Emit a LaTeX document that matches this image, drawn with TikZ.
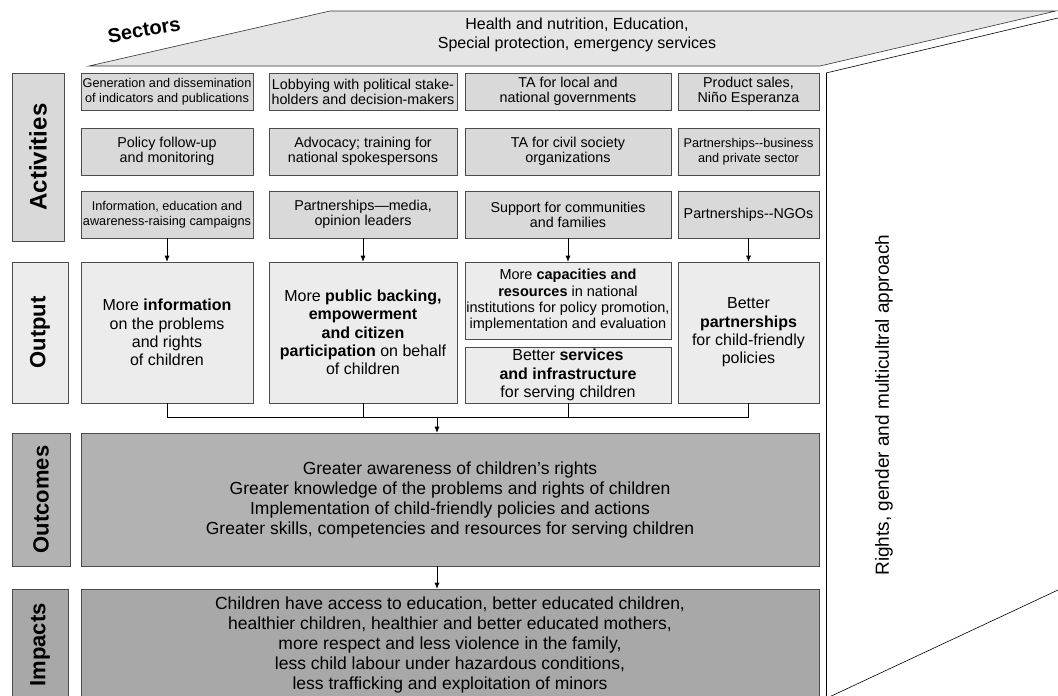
\documentclass[tikz,border=0pt]{standalone}
\usepackage{fontspec}
\setmainfont{Liberation Sans}
\usepackage{tikz}
\usetikzlibrary{arrows.meta, positioning}
\tikzset{
  >={Latex[length=6,width=5]},
  % caselle del quadro
  cell/.style={draw=black!70,line width=0.6pt,inner sep=0.5pt,align=center,font=\fontsize{14.3}{15}\selectfont},
  cell act/.style={cell,fill=gray!30},
  cell out/.style={cell,fill=gray!15,font=\fontsize{16}{18.3}\selectfont},
  cell res/.style={cell,fill=gray!60,font=\fontsize{17.5}{20}\selectfont},
  cell imp/.style={cell res,fill=gray!68},
  smalltext/.style={font=\fontsize{12.7}{15}\selectfont},
  wh/.style 2 args={minimum width=#1pt,minimum height=#2pt},
  % etichette dei livelli
  stage/.style={draw=black!70,line width=0.6pt,inner sep=0pt,font=\fontsize{22}{22}\selectfont\bfseries},
  % connessioni
  connect/.style={line width=0.6pt,black},
  connect arrow/.style={->,line width=0.6pt,black}
}
\begin{document}
\begin{tikzpicture}[x=1pt,y=-1pt]
  \clip (0,0) rectangle (1058,696);
  % tetto dei settori e pannello laterale
  \filldraw[fill=gray!20,draw=black!80,line width=0.6pt] (89,66) -- (330,11) -- (1056,11) -- (820,66) -- cycle;
  \node[rotate=10,font=\fontsize{20}{20}\selectfont\bfseries] (sectors) at (144,30) {Sectors};
  \node[align=center,font=\fontsize{16}{19}\selectfont] (sectorlist) at (577,35)
    {Health and nutrition, Education,\\Special protection, emergency services};
  \draw[line width=0.6pt] (826,73) -- (1058,18);
  \draw[line width=0.6pt] (826,73) -- (826,700);
  \draw[line width=0.6pt] (826,698.5) -- (1058,590);
  \node[rotate=90,font=\fontsize{19}{19}\selectfont] (approach) at (884,405)
    {Rights, gender and multicultral approach};

  % livelli
  \node[stage,fill=gray!30,wh={52}{168}] (lblact) at (38,157) {\rotatebox{90}{\fontsize{24}{24}\selectfont Activities}};
  \node[stage,fill=gray!15,wh={56}{141}] (lblout) at (40,332.5) {\rotatebox{90}{Output}};
  \node[stage,fill=gray!60,wh={58}{133}] (lblres) at (41,499.5) {\rotatebox{90}{Outcomes}};
  \node[stage,fill=gray!68,wh={56}{112}] (lblimp) at (40,645) {\rotatebox{90}{Impacts}};

  % attivita
  \node[cell act,smalltext,wh={172}{37}] (act11) at (167,91.5) {Generation and dissemination\\of indicators and publications};
  \node[cell act,wh={188}{37}] (act21) at (363,91.5) {Lobbying with political stake-\\holders and decision-makers};
  \node[cell act,wh={206}{37}] (act31) at (568,91.5) {TA for local and\\national governments};
  \node[cell act,wh={141}{37}] (act41) at (748.5,91.5) {Product sales,\\Niño Esperanza};
  \node[cell act,wh={172}{47}] (act12) at (167,151.5) {Policy follow-up\\and monitoring};
  \node[cell act,wh={188}{47}] (act22) at (363,151.5) {Advocacy; training for\\national spokespersons};
  \node[cell act,wh={206}{47}] (act32) at (568,151.5) {TA for civil society\\organizations};
  \node[cell act,smalltext,wh={141}{47}] (act42) at (748.5,151.5) {Partnerships\mbox{-}\mbox{-}business\\and private sector};
  \node[cell act,smalltext,wh={172}{47}] (act13) at (167,214.5) {Information, education and\\awareness-raising campaigns};
  \node[cell act,wh={188}{47}] (act23) at (363,214.5) {Partnerships—media,\\opinion leaders};
  \node[cell act,wh={206}{47}] (act33) at (568,214.5) {Support for communities\\and families};
  \node[cell act,wh={141}{47}] (act43) at (748.5,214.5) {Partnerships\mbox{-}\mbox{-}NGOs};

  % prodotti
  \node[cell out,wh={172}{141}] (out1) at (167,332.5) {More \textbf{information}\\on the problems\\and rights\\of children};
  \node[cell out,wh={188}{141}] (out2) at (363,332.5) {More \textbf{public backing,}\\\textbf{empowerment}\\\textbf{and citizen}\\\textbf{participation} on behalf\\of children};
  \node[cell out,font=\fontsize{14.5}{16.3}\selectfont,wh={206}{77}] (out3a) at (568,300.5) {More \textbf{capacities and}\\\textbf{resources} in national\\institutions for policy promotion,\\implementation and evaluation};
  \node[cell out,wh={206}{56}] (out3b) at (568,375) {Better \textbf{services}\\\textbf{and infrastructure}\\for serving children};
  \node[cell out,wh={141}{141}] (out4) at (748.5,332.5) {Better\\\textbf{partnerships}\\for child-friendly\\policies};

  % risultati e impatti
  \node[cell res,wh={738}{133}] (outcomes) at (450,499.5) {Greater awareness of children’s rights\\Greater knowledge of the problems and rights of children\\Implementation of child-friendly policies and actions\\Greater skills, competencies and resources for serving children};
  \node[cell imp,wh={738}{112}] (impacts) at (450,645) {Children have access to education, better educated children,\\healthier children, healthier and better educated mothers,\\more respect and less violence in the family,\\less child labour under hazardous conditions,\\less trafficking and exploitation of minors};

  % frecce
  \foreach \c in {1,2,4}
    \draw[connect arrow] (act\c3.south) -- (out\c.north);
  \draw[connect arrow] (act33.south) -- (out3a.north);
  \coordinate (merge) at (437,417);
  \draw[connect] (out1.south) -- (out1.south |- merge) -- (out4.south |- merge) -- (out4.south);
  \draw[connect] (out2.south) -- (out2.south |- merge);
  \draw[connect] (out3b.south) -- (out3b.south |- merge);
  \draw[connect arrow] (merge) -- (merge |- outcomes.north);
  \draw[connect arrow] (outcomes.south -| merge) -- (merge |- impacts.north);
\end{tikzpicture}
\end{document}
